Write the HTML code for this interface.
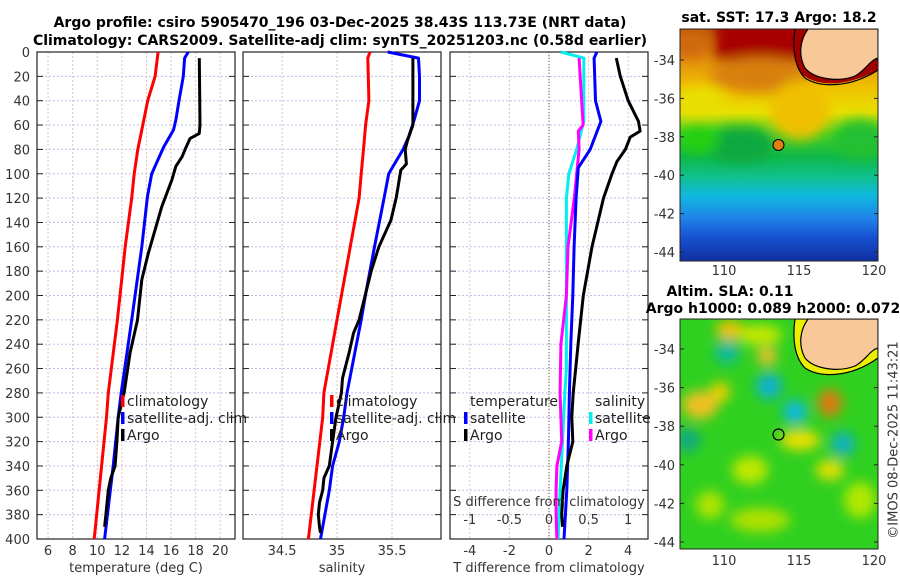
<!DOCTYPE html>
<html><head><meta charset="utf-8"><style>
body{margin:0;background:#fff;}
svg{display:block;font-family:"DejaVu Sans","Liberation Sans",sans-serif;}
.tk{font-size:13px;fill:#333;}
.tt{font-size:14px;font-weight:bold;fill:#000;}
.lg{font-size:14px;fill:#222;}
</style></head><body>
<svg id="chart" width="900" height="580" viewBox="0 0 900 580" xmlns="http://www.w3.org/2000/svg">
<defs>
<linearGradient id="sstg" x1="0" y1="0" x2="0" y2="1">
<stop offset="0" stop-color="#c05808"/><stop offset="0.12" stop-color="#e08a10"/>
<stop offset="0.25" stop-color="#f0c000"/><stop offset="0.36" stop-color="#e8e000"/>
<stop offset="0.45" stop-color="#40d020"/><stop offset="0.55" stop-color="#10b848"/>
<stop offset="0.64" stop-color="#10c090"/><stop offset="0.72" stop-color="#10b8e0"/>
<stop offset="0.82" stop-color="#2080e8"/><stop offset="0.9" stop-color="#1850d0"/>
<stop offset="1" stop-color="#1030a0"/></linearGradient>
<filter id="blur6"><feGaussianBlur stdDeviation="6"/></filter>
<clipPath id="c1"><rect x="680" y="29" width="198" height="232"/></clipPath>
<clipPath id="c2"><rect x="680" y="319" width="198" height="230"/></clipPath>
</defs>
<g id="titles">
<text class="tt" x="340" y="27" text-anchor="middle">Argo profile: csiro 5905470_196 03-Dec-2025 38.43S 113.73E (NRT data)</text>
<text class="tt" x="340" y="45" text-anchor="middle">Climatology: CARS2009. Satellite-adj clim: synTS_20251203.nc (0.58d earlier)</text>
</g>
<g id="panels"></g>
<g>
<g clip-path="url(#c1)">
<rect x="680" y="29" width="198" height="232" fill="url(#sstg)"/>
<g filter="url(#blur6)">
<rect x="715" y="20" width="100" height="40" fill="#a80000"/>
<ellipse cx="690" cy="45" rx="18" ry="12" fill="#d06808"/>
<ellipse cx="760" cy="75" rx="50" ry="18" fill="#d88010"/>
<ellipse cx="800" cy="110" rx="30" ry="30" fill="#f0c000"/>
<ellipse cx="700" cy="100" rx="25" ry="12" fill="#e8e000"/>
<ellipse cx="740" cy="145" rx="35" ry="18" fill="#10a840"/>
<ellipse cx="860" cy="140" rx="25" ry="20" fill="#20c030"/>
<ellipse cx="700" cy="140" rx="20" ry="12" fill="#20d010"/>
</g>
<path d="M795,29 C793,50 795,65 800,72 C812,85 840,90 878,70 L878,29 Z" fill="#a00000"/>
<path d="M808,29 C800,40 798,55 805,68 C815,80 840,82 855,76 C866,70 870,60 878,58 L878,29 Z" fill="#f8c898" stroke="#000" stroke-width="1.2"/>
<path d="M795,29 C792,50 795,68 805,78 C820,88 850,88 878,70" fill="none" stroke="#000" stroke-width="1.2"/>
<circle cx="778.5" cy="145" r="5.5" fill="#e08010" stroke="#000" stroke-width="1"/>
</g>
<rect x="680" y="29" width="198" height="232" fill="none" stroke="#222" stroke-width="1"/>
<text class="tt" x="779" y="22" text-anchor="middle">sat. SST: 17.3 Argo: 18.2</text>
</g>
<g>
<g clip-path="url(#c2)">
<rect x="680" y="319" width="198" height="230" fill="#30d020"/>
<g filter="url(#blur6)">
<ellipse cx="730" cy="330" rx="14" ry="10" fill="#f0c000"/>
<ellipse cx="760" cy="335" rx="22" ry="10" fill="#c8e800"/>
<ellipse cx="727" cy="352" rx="12" ry="12" fill="#10b8a0"/>
<ellipse cx="767" cy="356" rx="10" ry="9" fill="#f0c030"/>
<ellipse cx="769" cy="386" rx="13" ry="13" fill="#10b0d0"/>
<ellipse cx="795" cy="412" rx="12" ry="12" fill="#10b8e0"/>
<ellipse cx="830" cy="403" rx="12" ry="14" fill="#e07810"/>
<ellipse cx="843" cy="444" rx="12" ry="12" fill="#10b0c0"/>
<ellipse cx="700" cy="405" rx="18" ry="14" fill="#f0c020"/>
<ellipse cx="720" cy="392" rx="10" ry="10" fill="#f0d000"/>
<ellipse cx="688" cy="440" rx="12" ry="12" fill="#10a880"/>
<ellipse cx="800" cy="440" rx="20" ry="10" fill="#f0e000"/>
<ellipse cx="830" cy="470" rx="14" ry="10" fill="#e8e000"/>
<ellipse cx="750" cy="470" rx="18" ry="14" fill="#c0e800"/>
<ellipse cx="760" cy="520" rx="30" ry="12" fill="#b0e000"/>
<ellipse cx="860" cy="500" rx="16" ry="18" fill="#b0e800"/>
<ellipse cx="710" cy="505" rx="14" ry="14" fill="#b0e400"/>
</g>
<path d="M795,319 C792,340 795,358 805,368 C820,378 850,378 878,358 L878,319 Z" fill="#e8f000" stroke="#000" stroke-width="1.2"/>
<path d="M808,319 C800,330 798,345 805,358 C815,370 840,372 855,366 C866,360 870,350 878,348 L878,319 Z" fill="#f8c898" stroke="#000" stroke-width="1.2"/>
<circle cx="778.5" cy="434.5" r="5.5" fill="none" stroke="#000" stroke-width="1.2"/>
</g>
<rect x="680" y="319" width="198" height="230" fill="none" stroke="#222" stroke-width="1"/>
<text class="tt" x="730" y="296" text-anchor="middle">Altim. SLA: 0.11</text>
<text class="tt" x="773" y="313" text-anchor="middle">Argo h1000: 0.089 h2000: 0.072</text>
</g>
<text x="894" y="440" font-size="13" fill="#333" text-anchor="middle" transform="rotate(-90 894 440)" dominant-baseline="middle">©IMOS 08-Dec-2025 11:43:21</text>
<g id="maps-axes"></g>
</svg>
<script>
const depthTicks = [0,20,40,60,80,100,120,140,160,180,200,220,240,260,280,300,320,340,360,380,400];
const tempTicks = [6,8,10,12,14,16,18,20];
const salTicks = [34.5,35,35.5];
const tdiffTicks = [-4,-2,0,2,4];
const sdiffTicks = [-1,-0.5,0,0.5,1];
const tempClimDepth = [0,20,40,60,80,100,120,160,220,280,300,400];
const tempClimVal = [14.95,14.7,14.1,13.7,13.3,13.0,12.8,12.27,11.64,10.9,10.75,9.75];
const tempSatDepth = [0,5,20,40,56,64,78,100,119,160,220,280,300,340,400];
const tempSatVal = [17.4,17.1,17.0,16.65,16.39,16.2,15.4,14.43,14.08,13.62,12.8,11.95,11.7,11.3,10.6];
const tempArgoDepth = [5,60,67,71,80,86,94,105,127,146,165,187,220,247,280,300,320,340,350,360,380,390];
const tempArgoVal = [18.3,18.35,18.29,17.55,17.14,16.9,16.39,16.07,15.25,14.7,14.16,13.62,13.27,12.67,12.18,11.7,11.6,11.45,11.1,10.9,10.7,10.6];
const salClimDepth = [0,5,40,60,80,100,120,220,280,300,400];
const salClimVal = [35.30,35.28,35.29,35.26,35.24,35.22,35.20,35.0,34.88,34.87,34.74];
const salSatDepth = [0,5,20,40,56,70,80,100,119,160,199,220,280,300,320,340,360,400];
const salSatVal = [35.46,35.74,35.75,35.75,35.70,35.65,35.6,35.47,35.43,35.34,35.26,35.22,35.09,35.06,35.02,34.96,34.93,34.85];
const salArgoDepth = [5,60,73,80,92,97,119,138,160,180,220,231,247,268,280,300,320,340,350,360,370,380,390,395];
const salArgoVal = [35.69,35.69,35.64,35.62,35.63,35.58,35.54,35.49,35.38,35.31,35.2,35.15,35.11,35.05,35.04,34.99,34.96,34.93,34.88,34.87,34.84,34.83,34.84,34.85];
const tdSatDepth = [0,5,40,57,80,95,120,160,200,240,280,320,360,400];
const tdSatVal = [2.42,2.28,2.35,2.62,2.08,1.48,1.37,1.27,1.2,1.1,1.03,0.98,0.9,0.76];
const tdArgoDepth = [5,20,40,57,65,70,80,90,100,120,160,200,240,260,280,300,320,340,360,380,390];
const tdArgoVal = [3.4,3.6,4.0,4.52,4.6,4.1,3.86,3.43,3.18,2.75,2.17,1.73,1.47,1.35,1.22,1.15,1.2,0.9,0.71,0.64,0.68];
const sdSatDepth = [0,5,57,80,100,120,160,200,260,280,320,360,400];
const sdSatVal = [0.15,0.44,0.44,0.35,0.25,0.22,0.22,0.22,0.22,0.2,0.17,0.14,0.115];
const sdArgoDepth = [5,60,65,80,100,120,160,200,240,280,320,340,360,380,400];
const sdArgoVal = [0.38,0.43,0.37,0.38,0.35,0.32,0.24,0.22,0.15,0.14,0.16,0.1,0.09,0.09,0.1];
const lonTicks = [110,115,120];
const latTicks = [-34,-36,-38,-40,-42,-44];

const NS='http://www.w3.org/2000/svg';
const Y0=52, Y1=539;
const yD = d => Y0 + (Y1-Y0)*d/400;
const panels = [
 {x0:37,x1:235,min:5.1,max:21.2,name:'temperature-panel'},
 {x0:243,x1:441,min:34.145,max:35.945,name:'salinity-panel'},
 {x0:450,x1:648,min:-5,max:5,name:'difference-panel'}
];
const sx = (p,v) => p.x0 + (p.x1-p.x0)*(v-p.min)/(p.max-p.min);
const root = document.getElementById('panels');
function el(tag, attrs, parent){const e=document.createElementNS(NS,tag);for(const k in attrs)e.setAttribute(k,attrs[k]);(parent||root).appendChild(e);return e;}
function txt(x,y,s,cls,anchor,parent){const t=el('text',{x:x,y:y,'class':cls,'text-anchor':anchor||'middle'},parent);t.textContent=s;return t;}
function line(p,depths,vals,color,name,scale){
  const pts=depths.map((d,i)=>sx(p,vals[i]*(scale||1)).toFixed(1)+','+yD(d).toFixed(1)).join(' ');
  const pl=el('polyline',{points:pts,fill:'none',stroke:color,'stroke-width':3,'stroke-linejoin':'round'});
  
  
}
panels.forEach((p,pi)=>{
  const g=el('g',{});
  
  
  depthTicks.forEach(d=>{
    el('line',{x1:p.x0,x2:p.x1,y1:yD(d),y2:yD(d),stroke:'#b8c0e8','stroke-width':1,'stroke-dasharray':'2,2'},g);
    el('line',{x1:p.x0,x2:p.x0+6,y1:yD(d),y2:yD(d),stroke:'#222','stroke-width':1},g);
    el('line',{x1:p.x1-6,x2:p.x1,y1:yD(d),y2:yD(d),stroke:'#222','stroke-width':1},g);
  });
  const vt = pi===0?tempTicks:pi===1?salTicks:tdiffTicks;
  vt.forEach(v=>{
    el('line',{x1:sx(p,v),x2:sx(p,v),y1:Y0,y2:Y1,stroke:'#e8c0b8','stroke-width':1,'stroke-dasharray':'2,2'},g);
    txt(sx(p,v),555,String(v),'tk','middle',g);
  });
  el('rect',{x:p.x0,y:Y0,width:p.x1-p.x0,height:Y1-Y0,fill:'none',stroke:'#222','stroke-width':1.2},g);
});
depthTicks.forEach(d=>{
  const t=txt(30,yD(d)+5,String(d),'tk','end');
  
  
});
const P1=panels[0],P2=panels[1],P3=panels[2];
el('line',{x1:sx(P3,0),x2:sx(P3,0),y1:Y0,y2:Y1,stroke:'#555','stroke-width':1,'stroke-dasharray':'1,2'});
line(P1,tempClimDepth,tempClimVal,'#ff0000','temp-climatology-line');
line(P1,tempSatDepth,tempSatVal,'#0000ff','temp-satellite-line');
line(P1,tempArgoDepth,tempArgoVal,'#000000','temp-argo-line');
line(P2,salClimDepth,salClimVal,'#ff0000','sal-climatology-line');
line(P2,salSatDepth,salSatVal,'#0000ff','sal-satellite-line');
line(P2,salArgoDepth,salArgoVal,'#000000','sal-argo-line');
line(P3,sdSatDepth,sdSatVal,'#00f0f0','sdiff-satellite-line',4);
line(P3,sdArgoDepth,sdArgoVal,'#ff00ff','sdiff-argo-line',4);
line(P3,tdSatDepth,tdSatVal,'#0000ff','tdiff-satellite-line');
line(P3,tdArgoDepth,tdArgoVal,'#000000','tdiff-argo-line');
const sl=txt(549,506,'S difference from climatology','tk');


sdiffTicks.forEach(v=>{txt(sx(P3,v*4),524,String(v),'tk');});
[[136,'temperature (deg C)','temperature-axis-title'],[342,'salinity','salinity-axis-title'],[549,'T difference from climatology','tdiff-axis-title']].forEach(a=>{
  const t=txt(a[0],572,a[1],'tk');
  
  
});
function legend(x,y,color,label,name){
  el('rect',{x:x,y:y-11,width:3.5,height:12,fill:color});
  const t=txt(x+6,y,label,'lg','start');
  
  
}
legend(121,406,'#ff0000','climatology','legend-temp-climatology');
legend(121,423,'#0000ff','satellite-adj. clim','legend-temp-satellite');
legend(121,440,'#000000','Argo','legend-temp-argo');
legend(330,406,'#ff0000','climatology','legend-sal-climatology');
legend(330,423,'#0000ff','satellite-adj. clim','legend-sal-satellite');
legend(330,440,'#000000','Argo','legend-sal-argo');
txt(470,406,'temperature','lg','start');
legend(464,423,'#0000ff','satellite','legend-tdiff-satellite');
legend(464,440,'#000000','Argo','legend-tdiff-argo');
txt(595,406,'salinity','lg','start');
legend(589,423,'#00f0f0','satellite','legend-sdiff-satellite');
legend(589,440,'#ff00ff','Argo','legend-sdiff-argo');
const mg=document.getElementById('maps-axes');
const lonX = v => 724 + (v-110)*15;
[[60,19.2,275],[349,19.3,565]].forEach(m=>{
  latTicks.forEach(la=>{
    const y=m[0]+(-34-la)*m[1];
    el('line',{x1:680,x2:684,y1:y,y2:y,stroke:'#222'},mg);
    el('line',{x1:874,x2:878,y1:y,y2:y,stroke:'#222'},mg);
    txt(675,y+5,String(la),'tk','end',mg);
  });
  lonTicks.forEach(lo=>{txt(lonX(lo),m[2],String(lo),'tk','middle',mg);});
});
</script>
</body></html>
